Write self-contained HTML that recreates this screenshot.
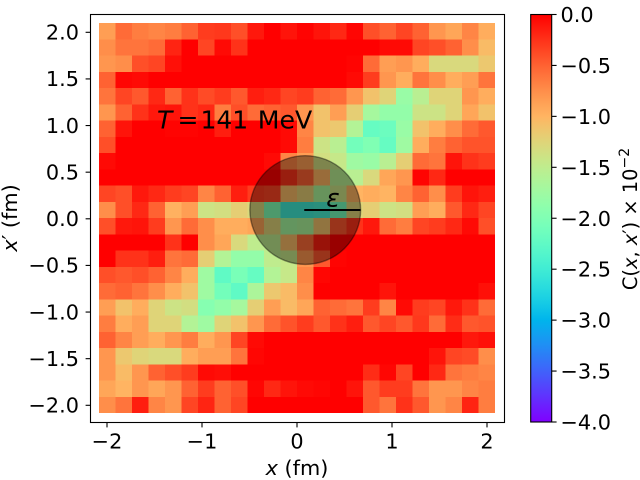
<!DOCTYPE html>
<html lang="en">
<head>
<meta charset="utf-8">
<title>Correlation heatmap C(x, x') at T = 141 MeV</title>
<style>
  html, body { margin: 0; padding: 0; background: #fff; }
  svg { display: block; }
  text { font-family: "DejaVu Sans", "Liberation Sans", sans-serif; fill: #000; }
</style>
</head>
<body>
<svg id="chart" xmlns="http://www.w3.org/2000/svg" width="640" height="480" viewBox="0 0 640 480">
  <rect x="0" y="0" width="640" height="480" fill="#fff"/>
  <defs>
    <linearGradient id="cbar-gradient" x1="0" y1="0" x2="0" y2="1"></linearGradient>
  </defs>
  <g id="heatmap"></g>
  <g id="overlay"></g>
  <text y="128.5" font-size="25"><tspan x="157" font-style="italic">T</tspan><tspan x="177.5">=</tspan><tspan x="200.5">141</tspan><tspan x="257.8" textLength="54.5" lengthAdjust="spacingAndGlyphs">MeV</tspan></text>
  <rect x="90.5" y="14.5" width="414" height="408" fill="none" stroke="#000" stroke-width="1.1"/>
  <g id="x-axis"></g>
  <g id="y-axis"></g>
  <text x="297" y="475" font-size="20.8" text-anchor="middle"><tspan font-style="italic">x</tspan> (fm)</text>
  <text transform="translate(17 218) rotate(-90)" font-size="20.8" text-anchor="middle"><tspan font-style="italic">x</tspan>′ (fm)</text>
  <rect id="colorbar-fill" x="530.7" y="14.5" width="21" height="407.5" fill="url(#cbar-gradient)"/>
  <rect x="530.7" y="14.5" width="21" height="407.5" fill="none" stroke="#000" stroke-width="1.1"/>
  <g id="cbar-axis"></g>
  <text transform="translate(637 219) rotate(-90)" font-size="19.4" text-anchor="middle">C(<tspan font-style="italic">x</tspan>, <tspan font-style="italic">x</tspan>′) × 10<tspan dy="-8" font-size="14">−2</tspan></text>
</svg>
<script>
// Chart data (top row of the image first; left column first)
const cellValues = [
  [-0.85,-0.55,-0.65,-0.70,-0.65,-0.50,-0.30,-0.28,-0.40,-0.12,0,-0.10,-0.02,-0.10,-0.20,-0.03,-0.40,-0.50,-0.35,-0.50,-0.80,-0.90,-0.70,-0.95],
  [-0.75,-0.60,-0.60,-0.55,-0.18,0,-0.35,-0.05,-0.25,0,0,0,0,0,0,0,0,-0.05,-0.05,-0.35,-0.40,-0.50,-0.75,-1.05],
  [-0.80,-0.75,-0.40,-0.35,-0.08,0,0,0,0,0,0,0,0,0,0,-0.02,-0.55,-0.85,-0.80,-0.95,-1.30,-1.30,-1.30,-1.15],
  [-0.50,-0.03,-0.05,0,0,0,0,0,0,0,0,0,0,0,0,-0.05,-0.30,-0.80,-0.95,-0.60,-0.75,-0.95,-0.85,-0.60],
  [-0.60,-0.35,-0.45,-0.20,-0.50,-0.25,-0.38,-0.30,-0.45,-0.15,-0.20,-0.35,-0.30,-0.50,-0.55,-0.80,-1.10,-1.25,-1.80,-1.55,-1.25,-1.25,-0.80,-0.95],
  [-0.80,-0.50,-0.25,-0.12,-0.10,-0.25,-0.20,-0.65,-0.40,-0.55,-0.50,-0.45,-0.80,-1.10,-0.85,-1.20,-1.70,-1.85,-1.85,-1.40,-1.40,-1.25,-0.90,-1.10],
  [-0.50,-0.10,0,0,-0.02,-0.02,0,-0.15,0,0,0,-0.05,-0.70,-1.10,-1.15,-1.60,-2.20,-2.15,-1.80,-1.10,-0.95,-0.75,-0.55,-0.45],
  [-0.40,0,0,0,0,0,0,0,0,0,0,-0.05,-0.65,-1.40,-1.55,-2.10,-2.00,-2.20,-1.75,-0.95,-0.65,-0.50,-0.42,-0.42],
  [-0.05,0,0,0,0,0,0,0,0,0,-0.05,-0.70,-0.85,-1.35,-1.45,-1.75,-1.80,-1.55,-1.20,-0.55,-0.60,-0.10,-0.25,-0.30],
  [0,0,0,0,0,0,0,0,0,0,0,-0.25,-0.50,-1.00,-1.55,-1.55,-1.30,-0.90,-0.80,-0.02,-0.20,0,0,0],
  [-0.35,-0.40,-0.12,-0.20,-0.30,-0.35,-0.70,-0.50,-0.15,-0.30,-0.35,-1.05,-1.20,-1.65,-1.40,-1.00,-0.95,-1.00,-0.70,-0.50,-0.75,-0.30,-0.10,-0.15],
  [-0.75,-0.40,-0.20,-0.50,-0.98,-0.85,-1.40,-1.35,-1.20,-1.30,-2.00,-2.50,-2.50,-2.45,-2.10,-1.25,-1.20,-1.40,-1.35,-0.85,-0.95,-0.45,-0.20,-0.35],
  [-0.40,-0.12,-0.10,-0.30,-0.80,-0.55,-0.75,-0.95,-0.95,-0.90,-1.25,-1.70,-1.65,-1.10,-0.45,-0.25,-0.12,-0.55,-0.65,-0.35,-0.30,-0.20,-0.05,-0.40],
  [0,0,0,0,-0.25,0,-0.75,-0.90,-1.30,-1.50,-1.50,-1.05,-0.55,-0.15,0,0,0,0,0,0,0,0,0,0],
  [0,-0.25,-0.25,-0.15,-0.60,-0.55,-1.20,-1.60,-1.85,-1.85,-1.50,-1.45,-0.80,-0.45,-0.02,0,0,0,0,0,0,0,0,0],
  [-0.40,-0.45,-0.40,-0.50,-0.70,-0.95,-1.75,-2.25,-2.05,-2.20,-1.60,-1.45,-0.70,-0.03,0,0,0,0,0,0,0,0,0,0],
  [-0.55,-0.50,-0.60,-0.75,-0.95,-1.10,-1.75,-2.10,-2.25,-1.65,-1.15,-1.05,-0.75,0,0,0,0,-0.10,0,0,0,0,0,-0.08],
  [-0.85,-1.10,-0.95,-1.25,-1.40,-1.35,-1.95,-1.85,-1.70,-1.20,-0.85,-1.05,-0.90,-0.50,-0.55,-0.60,-0.30,-0.70,-0.05,-0.30,-0.35,-0.12,-0.25,-0.55],
  [-0.65,-0.95,-0.85,-1.25,-1.25,-1.60,-1.75,-1.25,-1.10,-0.80,-0.55,-0.42,-0.30,-0.45,-0.25,-0.15,-0.45,-0.35,-0.45,-0.28,-0.55,-0.22,-0.45,-0.42],
  [-0.50,-0.70,-0.85,-0.95,-0.80,-0.65,-0.95,-0.80,-0.35,-0.05,0,0,0,0,0,0,0,0,0,0,0,0,-0.12,-0.08],
  [-0.80,-1.15,-1.25,-1.30,-1.30,-0.95,-0.85,-0.85,-0.60,-0.03,0,0,0,0,0,0,0,0,0,0,-0.10,-0.35,-0.38,-0.75],
  [-0.80,-1.05,-0.80,-0.50,-0.40,-0.30,-0.05,-0.07,0,0,0,0,0,0,0,0,-0.22,-0.03,-0.35,0,-0.20,-0.60,-0.65,-0.70],
  [-0.90,-1.00,-0.80,-0.90,-0.80,-0.50,-0.30,-0.50,-0.40,-0.03,-0.20,-0.10,-0.05,-0.03,0,-0.10,-0.45,-0.30,-0.30,-0.60,-0.80,-0.80,-0.70,-0.65],
  [-0.75,-0.60,-0.15,-0.70,-0.80,-0.35,-0.18,-0.50,-0.35,0,0,0,0,0,0,0,-0.45,-0.60,-0.25,-0.45,-0.80,-0.70,-0.18,-0.65]
];
const xTickValues = [-2, -1, 0, 1, 2];
const xTickLabels = ["−2", "−1", "0", "1", "2"];
const yTickValues = [-2, -1.5, -1, -0.5, 0, 0.5, 1, 1.5, 2];
const yTickLabels = ["−2.0", "−1.5", "−1.0", "−0.5", "0.0", "0.5", "1.0", "1.5", "2.0"];
const cbarTickValues = [0, -0.5, -1, -1.5, -2, -2.5, -3, -3.5, -4];
const cbarTickLabels = ["0.0", "−0.5", "−1.0", "−1.5", "−2.0", "−2.5", "−3.0", "−3.5", "−4.0"];
const colorDomain = [-4, 0];
const xExtent = [-2.084, 2.084];
const yExtent = [-2.083, 2.099];
const circleCenter = [0.0868, 0.094];
const circleRadius = 0.583;

const SVG_NS = "http://www.w3.org/2000/svg";
const xScale = function (x) { return 297 + 95 * x; };
const yScale = function (y) { return 218.8 - 93.25 * y; };
const cbarScale = function (v) { return 14.5 + (colorDomain[1] - v) / (colorDomain[1] - colorDomain[0]) * 407.5; };

function rainbowR(value) {
  let t = (value - colorDomain[0]) / (colorDomain[1] - colorDomain[0]);
  t = Math.max(0, Math.min(1, t));
  const r = Math.min(1, Math.abs(2 * t - 0.5));
  const g = Math.sin(Math.PI * t);
  const b = Math.cos(Math.PI * t / 2);
  return "rgb(" + Math.round(r * 255) + "," + Math.round(g * 255) + "," + Math.round(b * 255) + ")";
}

function make(tag, attrs) {
  const el = document.createElementNS(SVG_NS, tag);
  for (const k in attrs) { el.setAttribute(k, attrs[k]); }
  return el;
}

const heatmap = document.getElementById("heatmap");
const rowCount = cellValues.length;
const colCount = cellValues[0].length;
const stepX = (xExtent[1] - xExtent[0]) / colCount;
const stepY = (yExtent[1] - yExtent[0]) / rowCount;
cellValues.forEach(function (row, r) {
  row.forEach(function (value, c) {
    const x0 = xScale(xExtent[0] + c * stepX);
    const x1 = xScale(xExtent[0] + (c + 1) * stepX);
    const y0 = yScale(yExtent[1] - r * stepY);
    const y1 = yScale(yExtent[1] - (r + 1) * stepY);
    const cell = make("rect", { x: x0, y: y0, width: x1 - x0, height: y1 - y0, fill: rainbowR(value), "shape-rendering": "crispEdges" });
    
    
    heatmap.appendChild(cell);
  });
});

const overlay = document.getElementById("overlay");
const cx = xScale(circleCenter[0]);
const cy = yScale(circleCenter[1]);
const rx = xScale(circleRadius) - xScale(0);
const ry = yScale(0) - yScale(circleRadius);
const circle = make("ellipse", { cx: cx, cy: cy, rx: rx, ry: ry, fill: "#000", "fill-opacity": 0.4, stroke: "#000", "stroke-opacity": 0.4, "stroke-width": 1.4 });


overlay.appendChild(circle);
const radiusLine = make("line", { x1: cx - 1, y1: cy, x2: cx + rx, y2: cy, stroke: "#000", "stroke-width": 2 });


overlay.appendChild(radiusLine);
const epsLabel = make("text", { x: cx + 21, y: cy - 3.5, "font-size": 25, "font-style": "italic" });
epsLabel.textContent = "ε";


overlay.appendChild(epsLabel);

const xAxis = document.getElementById("x-axis");
xTickValues.forEach(function (v, i) {
  const px = xScale(v);
  const tick = make("line", { x1: px, y1: 422.5, x2: px, y2: 427.4, stroke: "#000", "stroke-width": 1.1 });
  
  
  xAxis.appendChild(tick);
  const label = make("text", { x: px, y: 448.5, "font-size": 20.8, "text-anchor": "middle" });
  label.textContent = xTickLabels[i];
  
  
  xAxis.appendChild(label);
});

const yAxis = document.getElementById("y-axis");
yTickValues.forEach(function (v, i) {
  const py = yScale(v);
  const tick = make("line", { x1: 85.6, y1: py, x2: 90.5, y2: py, stroke: "#000", "stroke-width": 1.1 });
  
  
  yAxis.appendChild(tick);
  const label = make("text", { x: 79, y: py + 7.2, "font-size": 20.8, "text-anchor": "end" });
  label.textContent = yTickLabels[i];
  
  
  yAxis.appendChild(label);
});

const gradient = document.getElementById("cbar-gradient");
const stopCount = 64;
for (let s = 0; s <= stopCount; s++) {
  const stopValue = colorDomain[1] - (s / stopCount) * (colorDomain[1] - colorDomain[0]);
  gradient.appendChild(make("stop", { offset: s / stopCount, "stop-color": rainbowR(stopValue) }));
}

const cbarAxis = document.getElementById("cbar-axis");
cbarTickValues.forEach(function (v, i) {
  const py = cbarScale(v);
  const tick = make("line", { x1: 551.7, y1: py, x2: 556.6, y2: py, stroke: "#000", "stroke-width": 1.1 });
  
  
  cbarAxis.appendChild(tick);
  const label = make("text", { x: 560.5, y: py + 7.5, "font-size": 20.8 });
  label.textContent = cbarTickLabels[i];
  
  
  cbarAxis.appendChild(label);
});
</script>
</body>
</html>
